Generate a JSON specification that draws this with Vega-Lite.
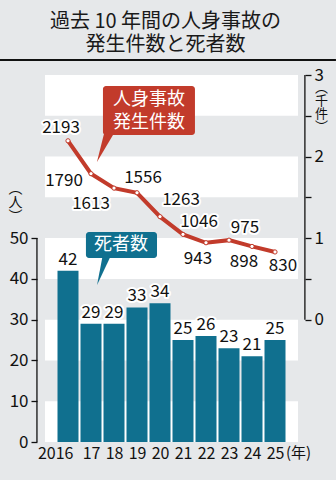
{
  "$schema": "https://vega.github.io/schema/vega-lite/v6.json",
  "width": 253,
  "height": 367,
  "autosize": {"type": "none"},
  "padding": {"left": 45, "top": 75, "right": 38, "bottom": 38},
  "background": "#e6e8ea",
  "config": {
    "view": {"stroke": null},
    "font": "Noto Sans CJK JP",
    "axis": {"labelFont": "Noto Sans CJK JP", "titleFont": "Noto Sans CJK JP", "labelColor": "#111111", "titleColor": "#111111", "titleFontWeight": "normal", "tickColor": "#111111", "grid": false, "domain": false},
    "text": {"font": "Noto Sans CJK JP"}
  },
  "title": {"text": ["過去 10 年間の人身事故の", "発生件数と死者数"], "font": "Noto Sans CJK JP", "fontSize": 20, "fontWeight": "normal", "color": "#1a1a1a", "anchor": "middle", "frame": "group", "dx": -6, "offset": 4, "lineHeight": 23},
  "data": {"values": [
    {"year": 2016, "deaths": 42, "accidents": 2193},
    {"year": 2017, "deaths": 29, "accidents": 1790},
    {"year": 2018, "deaths": 29, "accidents": 1613},
    {"year": 2019, "deaths": 33, "accidents": 1556},
    {"year": 2020, "deaths": 34, "accidents": 1263},
    {"year": 2021, "deaths": 25, "accidents": 1046},
    {"year": 2022, "deaths": 26, "accidents": 943},
    {"year": 2023, "deaths": 23, "accidents": 975},
    {"year": 2024, "deaths": 21, "accidents": 898},
    {"year": 2025, "deaths": 25, "accidents": 830}
  ]},
  "resolve": {"scale": {"y": "independent"}, "axis": {"x": "independent", "y": "independent"}},
  "layer": [
    {"data": {"values": [{"from": 0, "to": 10}, {"from": 20, "to": 30}, {"from": 40, "to": 50}, {"from": 60, "to": 70}, {"from": 80, "to": 90}]},
      "mark": {"type": "rect", "fill": "#ffffff"},
      "encoding": {"y": {"field": "from", "type": "quantitative", "scale": {"domain": [0, 90], "nice": false, "zero": false}, "axis": null}, "y2": {"field": "to"}}},
    {"mark": {"type": "bar", "orient": "vertical", "color": "#10708f", "size": 21},
      "encoding": {
        "x": {"field": "year", "type": "quantitative", "scale": {"domain": [2015, 2026], "nice": false, "zero": false, "padding": 0},
          "axis": {"orient": "bottom", "values": [2016, 2017, 2018, 2019, 2020, 2021, 2022, 2023, 2024, 2025], "format": "d", "labelExpr": "datum.value == 2016 ? '2016' : slice(toString(datum.value), 2)", "ticks": false, "labelFontSize": 16, "labelPadding": 3, "labelFlush": false, "labelOverlap": false,
            "labelAlign": {"condition": {"test": "datum.value == 2016", "value": "right"}, "value": "center"},
            "labelOffset": {"condition": {"test": "datum.value == 2016", "value": 5}, "value": 0},
            "title": "(年)", "titleFontSize": 15, "titleX": 253, "titleY": 3, "titleAlign": "center", "titleBaseline": "top"}},
        "y": {"field": "deaths", "type": "quantitative", "scale": {"domain": [0, 90], "nice": false, "zero": false},
        "axis": {"orient": "left", "values": [0, 10, 20, 30, 40, 50], "offset": 8, "tickSize": 6, "tickWidth": 1.3, "labelFontSize": 17, "labelPadding": 3, "title": ["︵", "人", "︶"], "titleAngle": 0, "titleAlign": "center", "titleBaseline": "top", "titleFontSize": 14, "titleLineHeight": 14, "titleX": -22, "titleY": 106}}}},
    {"mark": {"type": "text", "baseline": "alphabetic", "dy": -6, "fontSize": 17, "fill": "#ffffff", "stroke": "#ffffff", "strokeWidth": 4, "strokeJoin": "round"},
      "encoding": {"x": {"field": "year", "type": "quantitative", "axis": null}, "y": {"field": "deaths", "type": "quantitative", "scale": {"domain": [0, 90], "nice": false, "zero": false}, "axis": null}, "text": {"field": "deaths", "format": "d"}}},
    {"mark": {"type": "text", "baseline": "alphabetic", "dy": -6, "fontSize": 17, "fill": "#111111"},
      "encoding": {"x": {"field": "year", "type": "quantitative", "axis": null}, "y": {"field": "deaths", "type": "quantitative", "scale": {"domain": [0, 90], "nice": false, "zero": false}, "axis": null}, "text": {"field": "deaths", "format": "d"}}},
    {"data": {"values": [{"k": 1}]}, "mark": {"type": "rule", "stroke": "#111111", "strokeWidth": 1.3},
      "encoding": {"x": {"datum": 2014.65, "type": "quantitative", "axis": null}, "y": {"datum": 0, "type": "quantitative", "scale": {"domain": [0, 90], "nice": false, "zero": false}, "axis": null}, "y2": {"datum": 50}}},
    {"data": {"values": [{"k": 1}]}, "mark": {"type": "rect", "fill": "#10708f", "cornerRadius": 3},
      "encoding": {"x": {"datum": 2016.78, "type": "quantitative", "axis": null}, "x2": {"datum": 2019.87}, "y": {"datum": 51.5, "type": "quantitative", "scale": {"domain": [0, 90], "nice": false, "zero": false}, "axis": null}, "y2": {"datum": 45.1}}},
    {"data": {"values": [{"k": 1}]}, "mark": {"type": "point", "shape": "M-0.44,1L-0.06,-1L0.5,-1Z", "size": 1024, "filled": true, "fill": "#10708f", "strokeWidth": 0, "opacity": 1},
      "encoding": {"x": {"datum": 2017.57, "type": "quantitative", "axis": null}, "y": {"datum": 42.43, "type": "quantitative", "scale": {"domain": [0, 90], "nice": false, "zero": false}, "axis": null}}},
    {"data": {"values": [{"k": 1}]}, "mark": {"type": "text", "text": "死者数", "fontSize": 18, "fill": "#ffffff", "baseline": "middle"},
      "encoding": {"x": {"datum": 2018.3, "type": "quantitative", "axis": null}, "y": {"datum": 48.3, "type": "quantitative", "scale": {"domain": [0, 90], "nice": false, "zero": false}, "axis": null}}},
    {"mark": {"type": "line", "color": "#c23b2b", "strokeWidth": 4},
      "encoding": {"x": {"field": "year", "type": "quantitative", "axis": null}, "y": {"field": "accidents", "type": "quantitative", "scale": {"domain": [-1500, 3000], "nice": false, "zero": false},
        "axis": {"orient": "right", "values": [0, 500, 1000, 1500, 2000, 2500, 3000], "labelExpr": "datum.value % 1000 == 0 ? toString(datum.value / 1000) : ''", "offset": 7, "tickSize": 6, "tickWidth": 1.3, "labelFontSize": 17, "labelPadding": 3, "title": ["︵", "千", "件", "︶"], "titleAngle": 0, "titleAlign": "center", "titleBaseline": "top", "titleFontSize": 13, "titleLineHeight": 13, "titleX": 16, "titleY": 6}}}},
    {"mark": {"type": "point", "filled": true, "fill": "#ffffff", "stroke": "#c23b2b", "strokeWidth": 1, "size": 18, "opacity": 1},
      "encoding": {"x": {"field": "year", "type": "quantitative", "axis": null}, "y": {"field": "accidents", "type": "quantitative", "scale": {"domain": [-1500, 3000], "nice": false, "zero": false}, "axis": null}}},
    {"encoding": {"x": {"field": "year", "type": "quantitative", "axis": null}, "y": {"field": "accidents", "type": "quantitative", "scale": {"domain": [-1500, 3000], "nice": false, "zero": false}, "axis": null}, "text": {"field": "accidents", "format": "d"}},
      "layer": [
        {"transform": [{"filter": "datum.year == 2016"}], "mark": {"type": "text", "dx": -7, "dy": -13, "baseline": "middle", "fontSize": 17, "fill": "#ffffff", "stroke": "#ffffff", "strokeWidth": 4, "strokeJoin": "round"}},
        {"transform": [{"filter": "datum.year == 2016"}], "mark": {"type": "text", "dx": -7, "dy": -13, "baseline": "middle", "fontSize": 17, "fill": "#111111"}},
        {"transform": [{"filter": "datum.year == 2017"}], "mark": {"type": "text", "dx": -27, "dy": 7, "baseline": "middle", "fontSize": 17, "fill": "#ffffff", "stroke": "#ffffff", "strokeWidth": 4, "strokeJoin": "round"}},
        {"transform": [{"filter": "datum.year == 2017"}], "mark": {"type": "text", "dx": -27, "dy": 7, "baseline": "middle", "fontSize": 17, "fill": "#111111"}},
        {"transform": [{"filter": "datum.year == 2018"}], "mark": {"type": "text", "dx": -23, "dy": 16, "baseline": "middle", "fontSize": 17, "fill": "#ffffff", "stroke": "#ffffff", "strokeWidth": 4, "strokeJoin": "round"}},
        {"transform": [{"filter": "datum.year == 2018"}], "mark": {"type": "text", "dx": -23, "dy": 16, "baseline": "middle", "fontSize": 17, "fill": "#111111"}},
        {"transform": [{"filter": "datum.year == 2019"}], "mark": {"type": "text", "dx": 6, "dy": -15, "baseline": "middle", "fontSize": 17, "fill": "#ffffff", "stroke": "#ffffff", "strokeWidth": 4, "strokeJoin": "round"}},
        {"transform": [{"filter": "datum.year == 2019"}], "mark": {"type": "text", "dx": 6, "dy": -15, "baseline": "middle", "fontSize": 17, "fill": "#111111"}},
        {"transform": [{"filter": "datum.year == 2020"}], "mark": {"type": "text", "dx": 21, "dy": -17, "baseline": "middle", "fontSize": 17, "fill": "#ffffff", "stroke": "#ffffff", "strokeWidth": 4, "strokeJoin": "round"}},
        {"transform": [{"filter": "datum.year == 2020"}], "mark": {"type": "text", "dx": 21, "dy": -17, "baseline": "middle", "fontSize": 17, "fill": "#111111"}},
        {"transform": [{"filter": "datum.year == 2021 || datum.year == 2023"}], "mark": {"type": "text", "dx": 16, "dy": -12, "baseline": "middle", "fontSize": 17, "fill": "#ffffff", "stroke": "#ffffff", "strokeWidth": 4, "strokeJoin": "round"}},
        {"transform": [{"filter": "datum.year == 2021 || datum.year == 2023"}], "mark": {"type": "text", "dx": 16, "dy": -12, "baseline": "middle", "fontSize": 17, "fill": "#111111"}},
        {"transform": [{"filter": "datum.year == 2022 || datum.year == 2024"}], "mark": {"type": "text", "dx": -8, "dy": 16, "baseline": "middle", "fontSize": 17, "fill": "#ffffff", "stroke": "#ffffff", "strokeWidth": 4, "strokeJoin": "round"}},
        {"transform": [{"filter": "datum.year == 2022 || datum.year == 2024"}], "mark": {"type": "text", "dx": -8, "dy": 16, "baseline": "middle", "fontSize": 17, "fill": "#111111"}},
        {"transform": [{"filter": "datum.year == 2025"}], "mark": {"type": "text", "dx": 8, "dy": 14, "baseline": "middle", "fontSize": 17, "fill": "#ffffff", "stroke": "#ffffff", "strokeWidth": 4, "strokeJoin": "round"}},
        {"transform": [{"filter": "datum.year == 2025"}], "mark": {"type": "text", "dx": 8, "dy": 14, "baseline": "middle", "fontSize": 17, "fill": "#111111"}}
      ]},
    {"data": {"values": [{"k": 1}]}, "mark": {"type": "rule", "stroke": "#111111", "strokeWidth": 1.3},
      "encoding": {"x": {"datum": 2026.3, "type": "quantitative", "axis": null}, "y": {"datum": 0, "type": "quantitative", "scale": {"domain": [-1500, 3000], "nice": false, "zero": false}, "axis": null}, "y2": {"datum": 3000}}},
    {"data": {"values": [{"k": 1}]}, "mark": {"type": "rect", "fill": "#c23b2b", "cornerRadius": 3},
      "encoding": {"x": {"datum": 2017.52, "type": "quantitative", "axis": null}, "x2": {"datum": 2021.52}, "y": {"datum": 2865, "type": "quantitative", "scale": {"domain": [-1500, 3000], "nice": false, "zero": false}, "axis": null}, "y2": {"datum": 2264}}},
    {"data": {"values": [{"k": 1}]}, "mark": {"type": "point", "shape": "M-0.45,0.75L-0.05,-0.85L0.5,-0.85Z", "size": 1600, "filled": true, "fill": "#c23b2b", "strokeWidth": 0, "opacity": 1},
      "encoding": {"x": {"datum": 2017.65, "type": "quantitative", "axis": null}, "y": {"datum": 2117, "type": "quantitative", "scale": {"domain": [-1500, 3000], "nice": false, "zero": false}, "axis": null}}},
    {"data": {"values": [{"k": 1}]}, "mark": {"type": "text", "text": ["人身事故", "発生件数"], "fontSize": 18, "lineHeight": 23, "fill": "#ffffff", "baseline": "middle"},
      "encoding": {"x": {"datum": 2019.52, "type": "quantitative", "axis": null}, "y": {"datum": 2693, "type": "quantitative", "scale": {"domain": [-1500, 3000], "nice": false, "zero": false}, "axis": null}}},
    {"data": {"values": [{"k": 1}]}, "mark": {"type": "rule", "stroke": "#111111", "strokeWidth": 2.2},
      "encoding": {"x": {"datum": 2013.04, "type": "quantitative", "axis": null}, "x2": {"datum": 2027.65}, "y": {"datum": 3184, "type": "quantitative", "scale": {"domain": [-1500, 3000], "nice": false, "zero": false}, "axis": null}}}
  ]
}
